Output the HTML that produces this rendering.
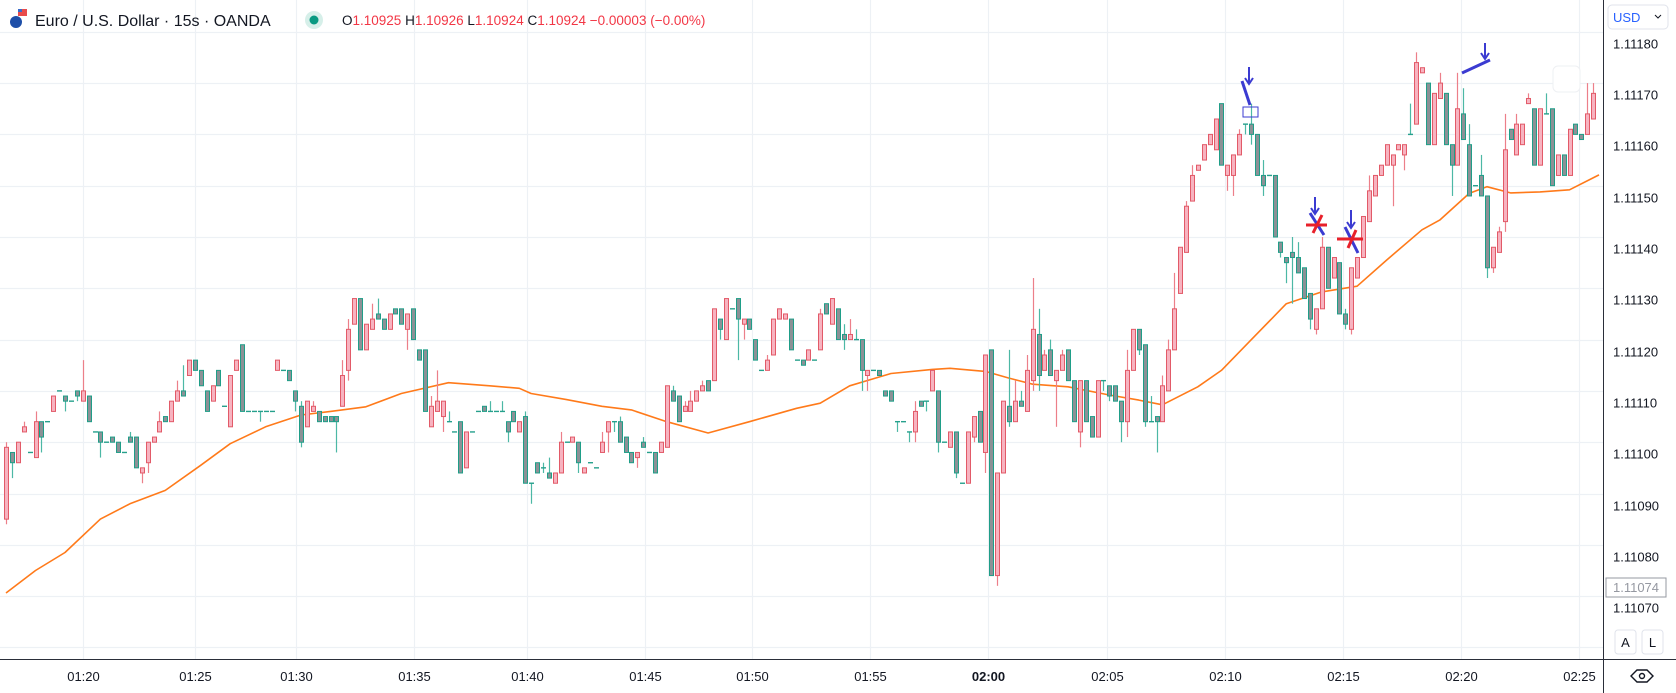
<!DOCTYPE html>
<html><head><meta charset="utf-8"><style>
html,body{margin:0;padding:0;background:#fff;overflow:hidden}
body{width:1676px;height:693px;position:relative;font-family:"Liberation Sans",sans-serif}
svg{position:absolute;left:0;top:0}
</style></head><body>
<svg id="chart" width="1676" height="693" viewBox="0 0 1676 693" xmlns="http://www.w3.org/2000/svg">
<g id="grid"></g>
<g id="ma"></g>
<g id="candles"></g>
<g id="annotations">
  <g stroke="#3b3bd1" stroke-width="2" fill="none">
    <line x1="1249" y1="67" x2="1249" y2="83"/><polyline points="1245,78 1249,84 1253,78"/>
    <line x1="1242" y1="81" x2="1250" y2="105" stroke-width="3"/>
    <rect x="1243" y="107" width="15" height="10" stroke-width="1"/>
    <line x1="1315" y1="197" x2="1315" y2="213"/><polyline points="1311,208 1315,214 1319,208"/>
    <line x1="1310" y1="213" x2="1324" y2="235" stroke-width="3"/>
    <line x1="1351" y1="210" x2="1351" y2="227"/><polyline points="1347,222 1351,228 1355,222"/>
    <line x1="1345" y1="227" x2="1358" y2="253" stroke-width="3"/>
    <line x1="1485" y1="43" x2="1485" y2="58"/><polyline points="1481,53 1485,59 1489,53"/>
    <line x1="1462" y1="73" x2="1490" y2="60" stroke-width="3"/>
  </g>
  <g stroke="#e8202a" stroke-width="3">
    <line x1="1306" y1="225" x2="1327" y2="225"/><line x1="1313" y1="233" x2="1322" y2="215"/>
    <line x1="1337" y1="239" x2="1363" y2="239"/><line x1="1348" y1="248" x2="1356" y2="230"/>
  </g>
</g>
<rect x="1553" y="66" width="27" height="26" rx="5" fill="#fff" stroke="#eef0f3"/>
<line x1="1603.5" y1="0" x2="1603.5" y2="693" stroke="#2a2e39" stroke-width="1"/>
<line x1="0" y1="659.5" x2="1676" y2="659.5" stroke="#2a2e39" stroke-width="1"/>
<g id="yaxis"></g>
<g id="xaxis"></g>
<g>
  <rect x="1606" y="578" width="60" height="19" fill="#fff" stroke="#9598a1"/>
  <text x="1636" y="592" text-anchor="middle" font-size="13" fill="#9598a1">1.11074</text>
</g>
<g>
  <rect x="1608" y="5" width="60" height="24" rx="4" fill="#fff" stroke="#e0e3eb"/>
  <text x="1613" y="22" font-size="13" fill="#2962ff">USD</text>
  <polyline points="1655,15 1658,18 1661,15" fill="none" stroke="#131722"/>
</g>
<g>
  <rect x="1615" y="630" width="21" height="24" rx="3" fill="#fff" stroke="#e0e3eb"/>
  <text x="1625.5" y="647" text-anchor="middle" font-size="13" fill="#131722">A</text>
</g>
<g>
  <rect x="1642" y="630" width="21" height="24" rx="3" fill="#fff" stroke="#e0e3eb"/>
  <text x="1652.5" y="647" text-anchor="middle" font-size="13" fill="#131722">L</text>
</g>
<g fill="none" stroke="#131722" stroke-width="1.4">
  <polygon points="1631,676 1637,670 1647,670 1653,676 1647,682 1637,682"/>
  <circle cx="1642" cy="676" r="2.5"/>
</g>
<g>
  <circle cx="16" cy="22" r="6" fill="#1e4fa8"/>
  <rect x="18" y="9" width="9" height="7" fill="#e84b4b"/><rect x="18" y="9" width="4" height="3" fill="#3a6bc9"/>
  <text x="35" y="26" font-size="16" fill="#131722">Euro / U.S. Dollar · 15s · OANDA</text>
  <circle cx="314" cy="20" r="9" fill="#d6efe9"/>
  <circle cx="314" cy="20" r="4.5" fill="#089981"/>
  <text x="342" y="25" font-size="13.5" fill="#131722">O<tspan fill="#f23645">1.10925</tspan> H<tspan fill="#f23645">1.10926</tspan> L<tspan fill="#f23645">1.10924</tspan> C<tspan fill="#f23645">1.10924 −0.00003 (−0.00%)</tspan></text>
</g>
</svg>
<script>
// prices in units of 0.00001 above 1.11000
const opens=[85,98,96,102,98,97,104,104,106,110,109,108,110,108,109,102,102,100,101,100,98,101,101,94,96,100,102,105,104,108,110,113,116,114,110,108,114,107,103,114,119,106,106,106,106,106,114,114,114,110,107,103,106,106,105,105,105,107,114,123,128,118,122,125,124,122,126,126,122,126,118,118,103,106,105,104,102,104,95,102,106,107,106,106,106,104,106,102,105,92,96,95,94,92,94,100,100,100,94,96,95,98,102,104,104,101,98,97,100,98,98,98,99,110,109,106,106,108,110,112,112,124,120,126,128,123,124,120,114,114,117,124,124,124,116,116,116,116,118,127,123,126,121,120,120,120,113,114,114,110,110,104,104,102,102,108,108,110,110,100,99,102,92,92,101,106,98,118,74,94,107,104,108,106,112,121,114,118,112,114,118,112,102,112,105,101,112,111,111,108,104,114,122,119,104,105,104,110,118,129,137,147,153,155,158,157,166,152,152,156,162,162,160,152,152,152,139,136,137,136,134,129,122,126,138,132,135,125,122,132,136,143,148,152,154,154,157,156,160,162,172,170,158,167,168,158,154,164,158,150,152,148,134,137,143,161,156,158,166,165,154,164,165,152,156,152,162,160,160,163];
const closes=[99,96,100,103,98,104,101,104,109,110,108,108,109,110,104,102,100,100,100,98,98,100,95,95,100,101,104,104,108,110,109,116,114,111,106,111,111,107,113,116,106,106,106,106,106,106,116,114,112,108,100,108,107,104,104,104,104,113,122,128,118,123,124,124,122,125,125,123,125,120,116,106,107,108,108,104,102,94,102,102,106,106,106,106,106,102,104,104,92,92,94,95,93,94,100,100,101,96,95,96,95,100,104,104,100,98,96,98,99,98,94,100,111,108,104,107,108,110,111,110,126,122,128,126,124,124,122,116,114,116,124,126,125,118,116,115,118,116,125,125,128,120,120,121,120,114,114,114,113,109,108,104,104,102,106,107,108,114,100,100,102,94,92,102,105,100,117,74,94,108,104,108,107,114,122,113,117,113,114,117,112,104,112,104,101,112,112,109,108,104,114,122,118,104,104,104,111,118,126,138,146,152,154,158,160,163,154,154,156,160,162,160,152,150,152,140,137,135,136,133,128,124,126,138,130,136,125,123,134,136,144,149,152,154,158,156,158,158,160,174,173,158,168,170,158,154,165,159,148,150,148,134,138,141,157,159,162,162,167,154,165,164,150,156,152,161,160,159,164,168];
const highs=[100,98,100,104,98,106,104,104,109,110,109,108,110,116,109,102,102,100,101,100,98,102,101,95,100,101,106,105,108,112,115,116,116,114,110,111,114,107,113,116,119,106,106,106,106,106,116,114,114,110,108,108,108,106,105,105,105,116,124,128,128,123,127,128,124,125,126,126,125,126,118,118,109,114,108,106,102,104,102,102,106,107,108,106,108,104,106,104,106,92,96,96,97,94,102,100,101,100,95,96,95,102,104,104,105,101,98,98,101,98,98,100,111,111,109,108,110,110,112,112,126,124,128,126,128,124,124,120,114,117,124,126,125,124,116,116,118,116,126,127,128,126,123,124,122,120,114,114,114,110,110,104,104,102,108,108,108,114,110,100,102,102,92,102,105,106,117,118,94,108,118,112,110,117,132,126,118,120,114,118,118,112,112,112,105,112,112,111,111,108,118,122,122,119,109,105,113,120,133,138,147,154,154,158,160,163,166,154,156,161,162,166,160,155,152,152,139,136,140,139,134,129,126,140,138,136,135,126,134,136,144,152,152,154,158,156,158,158,166,176,173,170,168,172,168,158,172,169,162,150,156,148,138,142,164,161,164,162,168,165,165,168,165,156,156,161,162,160,170,170];
const lows=[84,93,96,102,98,97,98,104,106,110,106,108,108,108,104,102,97,100,100,98,98,100,95,92,94,100,102,104,104,108,109,113,114,111,106,108,111,107,103,114,106,106,106,104,106,106,114,114,112,106,99,103,106,104,104,104,98,107,112,123,118,118,122,124,122,122,125,123,118,120,116,106,103,106,102,104,102,94,95,102,106,106,106,106,106,100,104,102,92,88,94,94,93,92,94,100,100,94,94,96,95,98,98,102,100,98,96,95,99,98,94,98,99,108,104,106,106,108,110,110,112,120,120,126,116,120,122,116,114,114,117,124,124,118,116,115,116,116,118,125,123,120,118,120,120,110,110,114,113,109,108,102,104,100,100,107,106,110,98,100,99,93,92,92,100,100,94,74,72,94,103,104,107,106,110,110,114,113,103,114,112,104,99,104,101,101,110,108,108,100,101,114,117,103,104,98,104,110,118,129,137,147,153,155,158,157,154,149,148,156,160,158,152,148,152,140,136,131,127,133,128,122,121,126,130,132,125,122,121,132,136,143,148,152,154,146,157,153,160,162,172,158,158,167,158,148,154,159,148,150,148,132,133,137,141,159,156,158,166,154,154,164,150,152,152,152,160,159,160,163];
// moving average (orange) read at candle indices
const maIdx=[0,5,10,16,21,27,33,38,44,50,55,61,67,75,82,87,89,95,101,106,112,119,126,134,138,143,148,150,157,160,166,170,174,180,187,192,196,202,206,211,217,223,229,234,240,243,248,251,255,260,265,270];
const maVal=[70.6,75,78.5,85,88,90.6,95.5,99.7,103,105.3,106,106.9,109.5,111.6,111,110.5,109.5,108.3,107,106.3,104,101.8,104,106.6,107.6,111,112.7,113.4,114.2,114.4,113.8,112.5,111.3,110.8,109.2,108.2,107.3,110.8,114,119.9,127,129.3,130.4,135.5,141.4,143.3,148.5,149.8,148.6,148.8,149.2,152.1];
// axes
const gridTicks=[180,170,160,150,140,130,120,110,100,90,80,70,60];
const priceTicks=[180,170,160,150,140,130,120,110,100,90,80,70];
const timeLabels=["01:20","01:25","01:30","01:35","01:40","01:45","01:50","01:55","02:00","02:05","02:10","02:15","02:20","02:25"];
const timeIdx=[13.05,32,49.2,69.2,88.3,108.3,126.4,146.4,166.4,186.6,206.6,226.6,246.6,266.6];

const NS="http://www.w3.org/2000/svg";
const xOf=i=>6+5.9*i;
const yOf=p=>288.3+(130-p)*5.13;
function mk(tag,attrs,parent){const e=document.createElementNS(NS,tag);for(const k in attrs)e.setAttribute(k,attrs[k]);parent.appendChild(e);return e;}
const grid=document.getElementById('grid'),yax=document.getElementById('yaxis'),xax=document.getElementById('xaxis');
gridTicks.forEach(p=>{
  const y=Math.round(yOf(p))+0.5;
  const g=mk('line',{x1:0,x2:1603,y1:y,y2:y,stroke:'#edf1f5','stroke-width':1.2},grid);
  
  
});
priceTicks.forEach(p=>{
  const y=Math.round(yOf(p))+0.5;
  const t=mk('text',{x:1613,y:y+16,'font-size':13,fill:'#131722'},yax);
  t.textContent=(1.11+p/100000).toFixed(5);
  
  
});
timeIdx.forEach((ti,k)=>{
  const x=Math.round(xOf(ti))+0.5;
  const g=mk('line',{x1:x,x2:x,y1:0,y2:659,stroke:'#edf1f5','stroke-width':1.2},grid);
  
  
  const t=mk('text',{x:x,y:681,'font-size':13,fill:'#131722','text-anchor':'middle','font-weight':timeLabels[k]==="02:00"?'bold':'normal'},xax);
  t.textContent=timeLabels[k];
  
  
});
// MA
const maPts=maIdx.map((ix,k)=>xOf(ix).toFixed(1)+','+yOf(maVal[k]).toFixed(1)).join(' ');
const ml=mk('polyline',{points:maPts,fill:'none',stroke:'#ff7a1a','stroke-width':1.6,'stroke-linejoin':'round'},document.getElementById('ma'));


// candles
const cg=document.getElementById('candles');
opens.forEach((o,i)=>{
  const c=closes[i],h=highs[i],l=lows[i];
  const up=c>o, flat=c===o;
  const cx=Math.round(xOf(i))+0.5;
  const g=mk('g',{},cg);
  
  
  const wc=up?'#ec7f89':'#4cb8a5';
  mk('line',{x1:cx,x2:cx,y1:yOf(h),y2:yOf(l),stroke:wc,'stroke-width':1.2},g);
  if(flat){
    mk('line',{x1:cx-2.5,x2:cx+2.5,y1:yOf(o),y2:yOf(o),stroke:'#26a08c','stroke-width':1.4},g);
  }else{
    const top=yOf(Math.max(o,c)),bot=yOf(Math.min(o,c));
    mk('rect',{x:cx-2,y:top,width:4,height:Math.max(1,bot-top),fill:up?'#f7b3c0':'#8c9196',stroke:up?'#e25a68':'#1f9e88','stroke-width':1},g);
  }
});
</script>
</body></html>
